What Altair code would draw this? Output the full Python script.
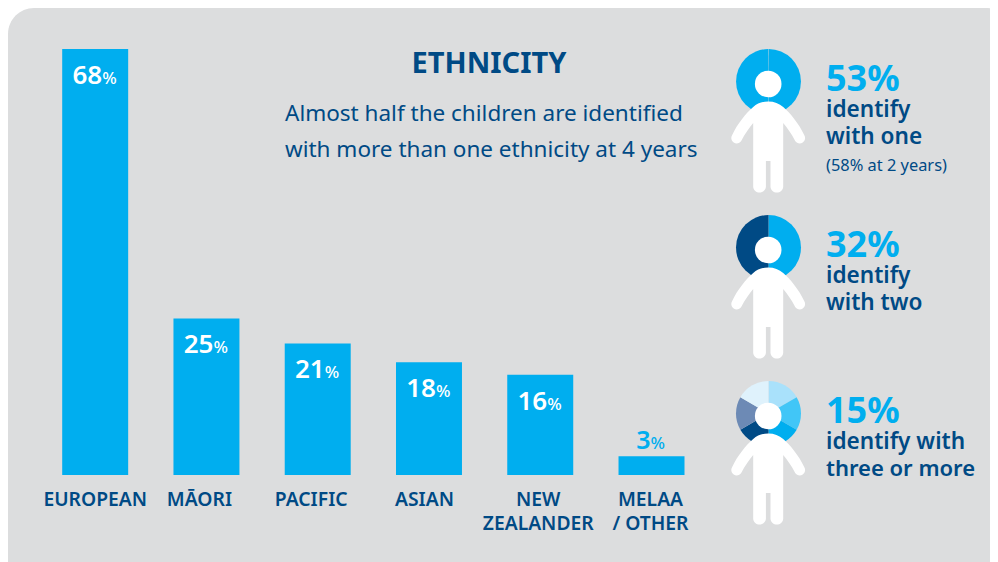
import altair as alt
import pandas as pd

# ---- data ----
categories = ["EUROPEAN", "MĀORI", "PACIFIC", "ASIAN", "NEW ZEALANDER", "MELAA / OTHER"]
values = [68, 25, 21, 18, 16, 3]
label_line1 = ["EUROPEAN", "MĀORI", "PACIFIC", "ASIAN", "NEW", "MELAA"]
label_line2 = ["", "", "", "", "ZEALANDER", "/ OTHER"]
title_text = "ETHNICITY"
subtitle_lines = ["Almost half the children are identified",
                  "with more than one ethnicity at 4 years"]
donut_segments = [[3, 3], [3, 3], [1, 1, 1, 1, 1, 1]]
donut_shades = [["mid", "mid"], ["mid", "dark"],
                ["pale", "light", "mid", "dark", "slate", "faint"]]
share_labels = ["53%", "32%", "15%"]
share_notes = [["identify", "with one"], ["identify", "with two"], ["identify with", "three or more"]]
extra_note = "(58% at 2 years)"

# ---- style ----
FONT = "Noto Sans"
BLUE = "#00aeef"
NAVY = "#004a85"
PANEL = "#dcddde"
shade_domain = ["mid", "dark", "pale", "light", "slate", "faint"]
shade_range = [BLUE, NAVY, "#a9e1fb", "#41c6f7", "#6d8ab5", "#dff2fc"]
OX, OY = 8, 8
W, H = 982, 554
PERSON = ("M0,17.5 C6,17.5 11,19.5 15,23 C22,29 31,40 36,51 A5.3,5.3 0 0 1 27,57 "
          "C23,49 19,44 15,39 L15,103 A6.4,6.4 0 0 1 2.3,103 L2.3,77 L-2.3,77 L-2.3,103 "
          "A6.4,6.4 0 0 1 -15,103 L-15,39 C-19,44 -23,49 -27,57 A5.3,5.3 0 0 1 -36,51 "
          "C-31,40 -22,29 -15,23 C-11,19.5 -6,17.5 0,17.5 Z")

bars = pd.DataFrame({"cat": categories, "val": values, "l1": label_line1, "l2": label_line2})
xs = alt.X("cat:N", sort=categories, axis=None,
           scale=alt.Scale(domain=categories, range=[54.2, 676.5], paddingInner=0.407, paddingOuter=0))
ys = alt.Y("val:Q", axis=None, scale=alt.Scale(domain=[0, 68], range=[467, 41], nice=False, zero=True))


def txt(s, x, y, size, color=NAVY, weight="normal", align="left"):
    return alt.Chart(pd.DataFrame({"t": [s]})).mark_text(
        font=FONT, fontSize=size, color=color, fontWeight=weight, align=align, baseline="alphabetic"
    ).encode(x=alt.value(x - OX), y=alt.value(y - OY), text="t:N")


layers = []
# panel
layers.append(alt.Chart(pd.DataFrame({"p": [0]})).mark_rect(color=PANEL, cornerRadius=26).encode(
    x=alt.value(0), x2=alt.value(1004), y=alt.value(0), y2=alt.value(600)))
# bars
layers.append(alt.Chart(bars).mark_bar(color=BLUE).encode(x=xs, y=ys))

# value labels
inside = bars[bars.val > 5]
outside = bars[bars.val <= 5]
for frame, color, dy, dx, num_size, weight in ((inside, "white", 35, 7, 26, 500), (outside, BLUE, -7, -1, 25, 500)):
    base = alt.Chart(frame)
    layers.append(base.mark_text(font=FONT, fontSize=num_size, fontWeight=600, color=color, align="right",
                                 baseline="alphabetic", dx=dx, dy=dy).encode(x=xs, y=ys, text="val:N"))
    layers.append(base.transform_calculate(pc="'%'").mark_text(
        font=FONT, fontSize=17, fontWeight=weight, color=color, align="left",
        baseline="alphabetic", dx=dx, dy=dy).encode(x=xs, y=ys, text="pc:N"))

# category labels
label_nudge = [0, -7, -6.5, -4.5, -2, -1]
for i, c in enumerate(categories):
    f = bars[bars.cat == c]
    for fld, ypx in (("l1", 506), ("l2", 530)):
        layers.append(alt.Chart(f).mark_text(
            font=FONT, fontSize=19.3, fontWeight=600, color=NAVY, align="center", baseline="alphabetic",
            dx=label_nudge[i]).encode(x=xs, y=alt.value(ypx - OY), text=f"{fld}:N"))

# title
layers.append(txt(title_text, 489, 73, 29, weight="bold", align="center"))
layers.append(txt(subtitle_lines[0], 285, 121, 22.5))
layers.append(txt(subtitle_lines[1], 285, 157, 22.5))

# donuts & people
head_ys = [84, 250, 416]
for k, (segs, shades) in enumerate(zip(donut_segments, donut_shades)):
    d = pd.DataFrame({"seg": segs, "shade": shades, "ord": list(range(len(segs)))})
    layers.append(alt.Chart(d).mark_arc(outerRadius=32.5, padAngle=0.012 if k == 0 else 0).encode(
        theta=alt.Theta("seg:Q", stack=True, scale=alt.Scale(domain=[0, 6])),
        order=alt.Order("ord:Q"),
        color=alt.Color("shade:N", legend=None, scale=alt.Scale(domain=shade_domain, range=shade_range)),
        x=alt.value(768.5 - OX), y=alt.value(head_ys[k] - 2.5 - OY)))
    hp = pd.DataFrame({"h": [k]})
    layers.append(alt.Chart(hp).mark_point(shape="circle", size=707, filled=True, color="white", opacity=1).encode(
        x=alt.value(768.2 - OX), y=alt.value(head_ys[k] - OY)))
    layers.append(alt.Chart(hp).mark_point(shape=PERSON, size=4, filled=True, color="white", opacity=1).encode(
        x=alt.value(768.2 - OX), y=alt.value(head_ys[k] - OY)))
    layers.append(txt(share_labels[k], 826, head_ys[k] + 7, 36, color=BLUE, weight="bold"))
    layers.append(txt(share_notes[k][0], 826, head_ys[k] + 33, 22.6, weight=600))
    layers.append(txt(share_notes[k][1], 826, head_ys[k] + 60, 22 if k == 2 else 22.6, weight=600))
layers.append(txt(extra_note, 826, 171, 16.4))

chart = alt.layer(*layers).properties(
    width=W, height=H, padding=0, autosize=alt.AutoSizeParams(type="none"), background="white"
).resolve_scale(x="shared", y="shared").configure_view(stroke=None)

chart.save("out.html", embed_options={"renderer": "svg", "actions": False})
